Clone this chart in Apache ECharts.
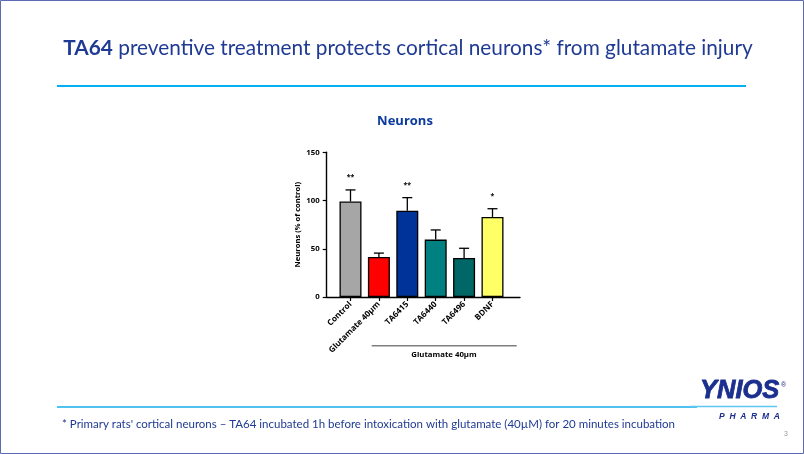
<!DOCTYPE html>
<html><head><meta charset="utf-8">
<script src="https://cdn.jsdelivr.net/npm/echarts@6/dist/echarts.min.js"></script>
<style>html,body{margin:0;padding:0;background:#fff}#c{width:804px;height:454px}</style>
</head><body><div id="c"></div>
<script>
const categories = ['Control', 'Glutamate 40µm', 'TA6415', 'TA6440', 'TA6496', 'BDNF'];
const means = [99, 41.5, 89.5, 59.5, 40.5, 83];
const errUpper = [111, 45.5, 103, 69.5, 50.5, 91.5];
const stars = ['**', '', '**', '', '', '*'];
const barColors = ['#A6A6A6', '#FF0000', '#003399', '#008080', '#006666', '#FFFF66'];
const yTicks = [0, 50, 100, 150];

const chart = echarts.init(document.getElementById('c'), null, {renderer: 'canvas'});
const F = 'Open Sans';
const titleColor = '#1F3A93';

const option = {
  animation: false,
  backgroundColor: '#fff',
  grid: [
    {left: 336.3, top: 152.3, width: 170.4, height: 144.7},
    {left: 326.7, top: 152.3, width: 193.3, height: 144.7}
  ],
  xAxis: [
    {type: 'category', data: categories, gridIndex: 0,
     axisLine: {show: false},
     axisTick: {show: true, alignWithLabel: true, length: 4, lineStyle: {color: '#000', width: 1.2}},
     axisLabel: {rotate: 45, margin: 6, fontSize: 8.2, fontWeight: 'bold', fontFamily: F, color: '#000', interval: 0}},
    {type: 'category', data: [''], gridIndex: 1,
     axisLine: {show: true, lineStyle: {color: '#000', width: 1.4}},
     axisTick: {show: false}, axisLabel: {show: false}}
  ],
  yAxis: [
    {type: 'value', gridIndex: 0, min: 0, max: 150, interval: 50, offset: 9.6,
     name: 'Neurons (% of control)', nameLocation: 'middle', nameGap: 25,
     nameTextStyle: {fontSize: 7.6, fontWeight: 'bold', fontFamily: F, color: '#000'},
     axisLine: {show: true, lineStyle: {color: '#000', width: 1.4}},
     axisTick: {show: true, length: 4, lineStyle: {color: '#000', width: 1.2}},
     axisLabel: {fontSize: 7.8, fontWeight: 'bold', fontFamily: F, color: '#000', margin: 7,
       formatter: v => yTicks.includes(v) ? String(v) : ''},
     splitLine: {show: false}},
    {type: 'value', gridIndex: 1, min: 0, max: 150, show: false}
  ],
  series: [
    {type: 'bar', xAxisIndex: 0, yAxisIndex: 0, barWidth: 22,
     data: means.map((v, i) => ({value: v, itemStyle: {color: barColors[i], borderColor: '#000', borderWidth: 1.3}})),
     z: 3},
    {type: 'custom', xAxisIndex: 0, yAxisIndex: 0, z: 2,
     data: categories.map((c, i) => [i, means[i], errUpper[i]]),
     renderItem: function (params, api) {
       const i = api.value(0);
       const base = api.coord([i, api.value(1)]);
       const top = api.coord([i, api.value(2)]);
       const hw = 5;
       const children = [
         {type: 'line', shape: {x1: base[0], y1: base[1], x2: top[0], y2: top[1]}, style: {stroke: '#000', lineWidth: 1.3}},
         {type: 'line', shape: {x1: top[0] - hw, y1: top[1], x2: top[0] + hw, y2: top[1]}, style: {stroke: '#000', lineWidth: 1.3}}
       ];
       if (stars[i]) {
         children.push({type: 'text', style: {text: stars[i], x: top[0], y: top[1] - 13, align: 'center', verticalAlign: 'middle',
           fontSize: 7, fontWeight: 'bold', fontFamily: F, fill: '#000'}});
       }
       return {type: 'group', children: children};
     }}
  ],
  graphic: [
    {type: 'rect', shape: {x: 0.5, y: 0.5, width: 803, height: 453}, style: {fill: 'none', stroke: '#5A6BB0', lineWidth: 1}, silent: true},
    {type: 'text', style: {
      text: '{b|TA64} preventive treatment protects cortical neurons* from glutamate injury',
      x: 408, y: 48, align: 'center', verticalAlign: 'middle',
      font: '20.8px Lato', fill: titleColor,
      rich: {b: {fontWeight: 'bold', fontSize: 20.8, fontFamily: 'Lato', fill: titleColor}}}},
    {type: 'line', shape: {x1: 57, y1: 86, x2: 746, y2: 86}, style: {stroke: '#00B0F0', lineWidth: 2}},
    {type: 'text', style: {text: 'Neurons', x: 405, y: 121, align: 'center', verticalAlign: 'middle',
      fontSize: 13, fontWeight: 'bold', fontFamily: F, fill: '#0B3A9E'}},
    {type: 'line', shape: {x1: 371.7, y1: 345.7, x2: 516.7, y2: 345.7}, style: {stroke: '#7F7F7F', lineWidth: 1.5}},
    {type: 'text', style: {text: 'Glutamate 40µm', x: 444, y: 355, align: 'center', verticalAlign: 'middle',
      fontSize: 7.8, fontWeight: 'bold', fontFamily: F, fill: '#000'}},
    {type: 'line', shape: {x1: 57, y1: 407, x2: 697, y2: 407}, style: {stroke: '#4FC3F0', lineWidth: 2}},
    {type: 'line', shape: {x1: 690, y1: 406.5, x2: 777, y2: 406.5}, style: {stroke: '#5CC8F2', lineWidth: 1.5}},
    {type: 'text', style: {text: '* Primary rats\' cortical neurons \u2013 TA64 incubated 1h before intoxication with glutamate (40µM) for 20 minutes incubation',
      x: 62, y: 424, verticalAlign: 'middle', font: '11.5px Lato', fill: '#1F3A93'}},
    {type: 'text', style: {text: 'YNIOS', x: 700, y: 391, verticalAlign: 'middle',
      font: 'italic 900 25.5px "Liberation Sans"', fill: '#1B2F8F', stroke: '#1B2F8F', lineWidth: 0.8}},
    {type: 'text', style: {text: '®', x: 781, y: 385, verticalAlign: 'middle', font: '7px "Liberation Sans"', fill: '#1B2F8F'}},
    {type: 'text', style: {text: 'P  H  A  R  M  A', x: 719, y: 417, verticalAlign: 'middle',
      font: 'italic bold 8.5px "Liberation Sans"', fill: '#1B2F8F'}},
    {type: 'text', style: {text: '3', x: 786, y: 434, align: 'center', verticalAlign: 'middle', font: '7px "Liberation Sans"', fill: '#999'}}
  ]
};
chart.setOption(option);
</script></body></html>
